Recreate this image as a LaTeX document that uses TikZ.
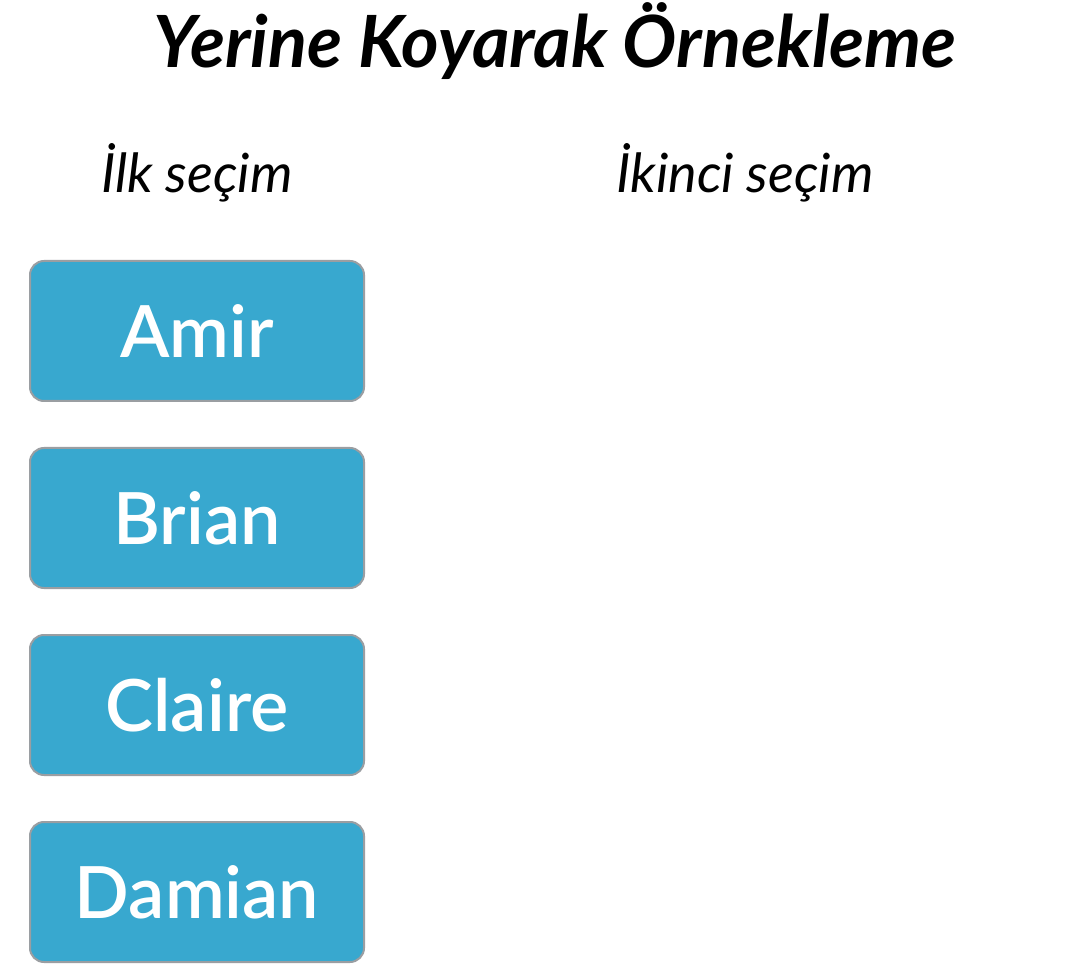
\documentclass[tikz,border=0pt]{standalone}
\usepackage{fontspec}
\setmainfont{Lato}
\newfontfamily\semib{Lato Semibold}
\definecolor{boxblue}{HTML}{38A8CF}
\definecolor{boxedge}{HTML}{9A9EA2}
\begin{document}
\begin{tikzpicture}[x=1pt,y=-1pt,
  namebox/.style={draw=boxedge,line width=2pt,fill=boxblue,rounded corners=14pt,
    minimum width=334pt,minimum height=140pt,inner sep=0pt,
    text=white,font=\fontsize{72}{72}\selectfont\semib},
  heading/.style={anchor=base,inner sep=0pt,font=\fontsize{54}{54}\selectfont\itshape}]
\useasboundingbox[fill=white] (0,0) rectangle (1088,976);
\node[anchor=base,inner sep=0pt,font=\fontsize{72}{72}\selectfont\bfseries\itshape] (title) at (555,68) {Yerine Koyarak Örnekleme};
\node[heading] (first) at (197,193) {İlk seçim};
\node[heading] (second) at (745,193) {İkinci seçim};
\node[namebox] (amir) at (197,331) {Amir};
\node[namebox] (brian) at (197,518) {Brian};
\node[namebox] (claire) at (197,705) {Claire};
\node[namebox] (damian) at (197,892) {Damian};
\end{tikzpicture}
\end{document}
